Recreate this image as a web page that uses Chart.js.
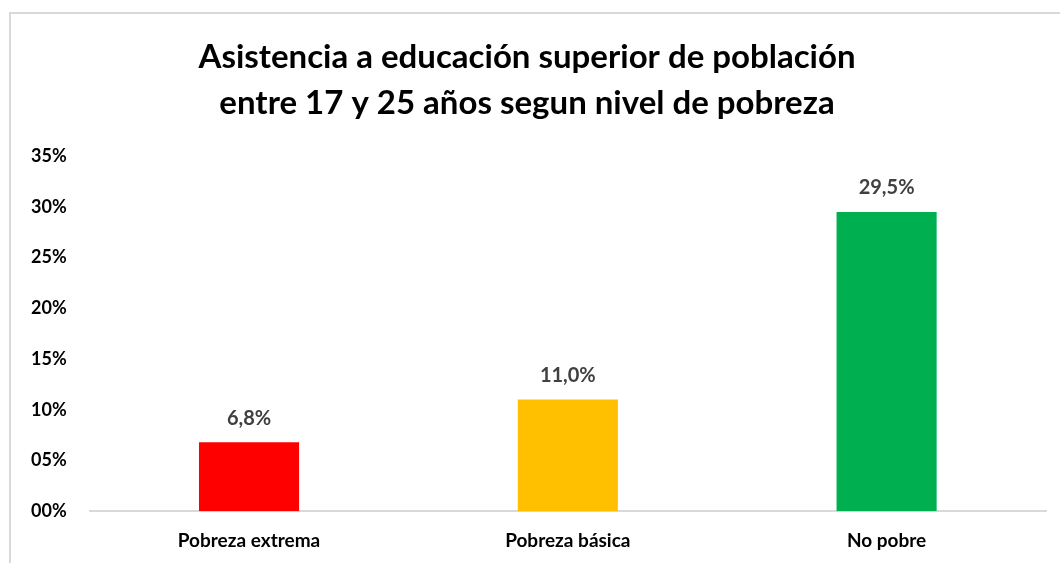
<!DOCTYPE html>
<html>
<head>
<meta charset="utf-8">
<script src="https://cdn.jsdelivr.net/npm/chart.js@4"></script>
<style>
  html, body { margin: 0; padding: 0; background: #fff; }
  #wrap { position: relative; width: 1060px; height: 563px; overflow: hidden; }
  #frame { position: absolute; left: 9px; top: 12px; width: 1100px; height: 600px; border: 2px solid #d9d9d9; box-sizing: border-box; }
  #c { position: absolute; left: 0; top: 0; }
</style>
</head>
<body>
<div id="wrap">
  <div id="frame"></div>
  <canvas id="c" width="1060" height="563"></canvas>
</div>
<script>
const categories = ["Pobreza extrema", "Pobreza básica", "No pobre"];
const values = [6.8, 11.0, 29.5];
const barColors = ["#ff0000", "#ffc000", "#00b050"];
const titleLines = ["Asistencia a educación superior de población", "entre 17 y 25 años segun nivel de pobreza"];

const fontFamily = "Lato, 'Open Sans', sans-serif";

// draws the value above each bar
const valueLabels = {
  id: "valueLabels",
  afterDatasetsDraw(chart) {
    const ctx = chart.ctx;
    const meta = chart.getDatasetMeta(0);
    ctx.save();
    ctx.font = "bold 20px " + fontFamily;
    ctx.fillStyle = "#404040";
    ctx.textAlign = "center";
    ctx.textBaseline = "middle";
    meta.data.forEach((bar, i) => {
      const txt = values[i].toFixed(1).replace(".", ",") + "%";
      ctx.fillText(txt, bar.x, bar.y - 24);
    });
    ctx.restore();
  }
};

new Chart(document.getElementById("c"), {
  type: "bar",
  data: {
    labels: categories,
    datasets: [{
      data: values,
      backgroundColor: barColors,
      categoryPercentage: 1,
      barPercentage: 0.314
    }]
  },
  options: {
    responsive: false,
    animation: false,
    layout: { padding: { left: 8, right: 14, top: 35, bottom: -7 } },
    plugins: {
      legend: { display: false },
      tooltip: { enabled: false },
      title: {
        display: true,
        text: titleLines,
        color: "#000",
        font: { family: fontFamily, size: 33, weight: "bold", lineHeight: 1.38 },
        padding: { top: 0, bottom: 30 }
      }
    },
    scales: {
      y: {
        min: 0,
        max: 35,
        ticks: {
          stepSize: 5,
          color: "#000",
          padding: 23,
          font: { family: fontFamily, size: 18, weight: "bold" },
          callback: v => String(v).padStart(2, "0") + "%"
        },
        grid: { display: false, drawTicks: false },
        border: { display: false }
      },
      x: {
        ticks: {
          color: "#000",
          padding: 18,
          font: { family: fontFamily, size: 19, weight: "bold" }
        },
        grid: { display: false, drawTicks: false },
        border: { display: true, color: "#d9d9d9", width: 2 }
      }
    }
  },
  plugins: [valueLabels]
});
</script>
</body>
</html>
